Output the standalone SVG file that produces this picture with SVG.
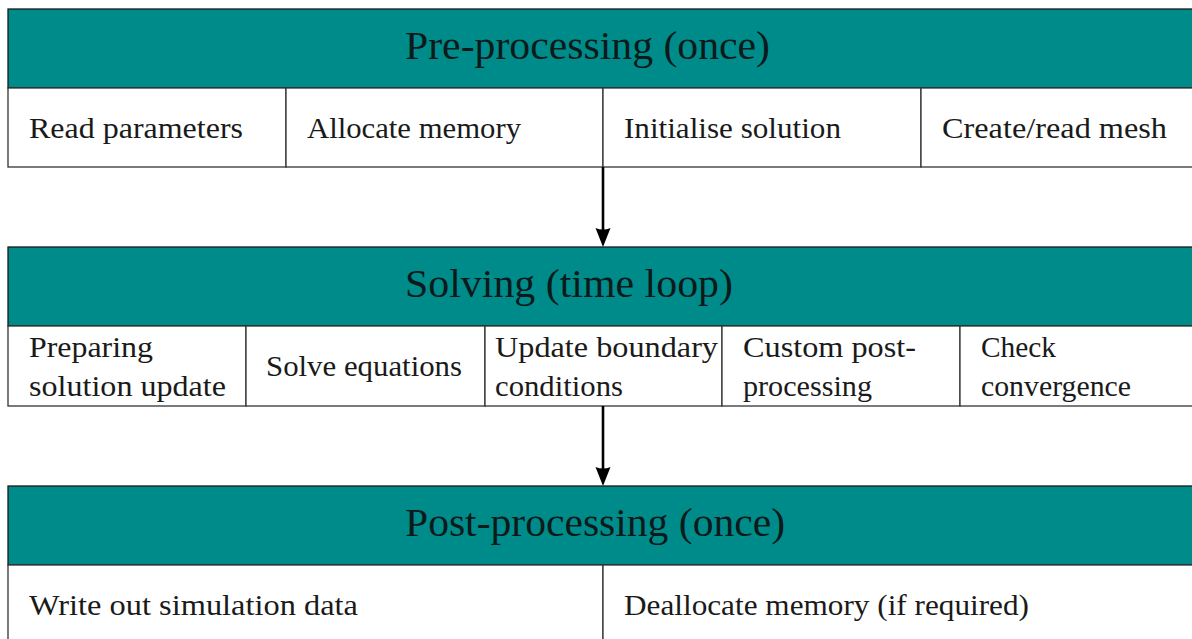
<svg xmlns="http://www.w3.org/2000/svg" width="1192" height="639" viewBox="0 0 1192 639">
<style>
.hdr{fill:#008B8B;stroke:#1a1a1a;stroke-width:1.3}
.cell{fill:#ffffff;stroke:#333333;stroke-width:1.3}
.conn{stroke:#000;stroke-width:2.6;fill:none}
.head{fill:#000}
</style>
<rect width="1192" height="639" fill="#ffffff"/>
<g id="pre-header"><rect class="hdr" x="8" y="9" width="1190" height="79"/><text x="405" y="59" font-family="Liberation Serif" font-size="40" fill="#0d1a1a" textLength="365" lengthAdjust="spacingAndGlyphs">Pre-processing (once)</text></g>
<g id="read-parameters"><rect class="cell" x="8" y="88" width="278" height="79"/><text x="29" y="138" font-family="Liberation Serif" font-size="29" fill="#1a1a1a" textLength="214" lengthAdjust="spacingAndGlyphs">Read parameters</text></g>
<g id="allocate-memory"><rect class="cell" x="286" y="88" width="317" height="79"/><text x="307" y="138" font-family="Liberation Serif" font-size="29" fill="#1a1a1a" textLength="214" lengthAdjust="spacingAndGlyphs">Allocate memory</text></g>
<g id="initialise-solution"><rect class="cell" x="603" y="88" width="318" height="79"/><text x="624" y="138" font-family="Liberation Serif" font-size="29" fill="#1a1a1a" textLength="217" lengthAdjust="spacingAndGlyphs">Initialise solution</text></g>
<g id="create-read-mesh"><rect class="cell" x="921" y="88" width="277" height="79"/><text x="942" y="138" font-family="Liberation Serif" font-size="29" fill="#1a1a1a" textLength="225" lengthAdjust="spacingAndGlyphs">Create/read mesh</text></g>
<g id="solve-header"><rect class="hdr" x="8" y="247" width="1190" height="79"/><text x="405" y="297" font-family="Liberation Serif" font-size="40" fill="#0d1a1a" textLength="328" lengthAdjust="spacingAndGlyphs">Solving (time loop)</text></g>
<g id="preparing"><rect class="cell" x="8" y="326" width="238" height="80"/><text x="29" y="357" font-family="Liberation Serif" font-size="29" fill="#1a1a1a" textLength="124" lengthAdjust="spacingAndGlyphs">Preparing</text><text x="29" y="396" font-family="Liberation Serif" font-size="29" fill="#1a1a1a" textLength="197" lengthAdjust="spacingAndGlyphs">solution update</text></g>
<g id="solve-equations"><rect class="cell" x="246" y="326" width="239" height="80"/><text x="266" y="376" font-family="Liberation Serif" font-size="29" fill="#1a1a1a" textLength="196" lengthAdjust="spacingAndGlyphs">Solve equations</text></g>
<g id="update-bc"><rect class="cell" x="485" y="326" width="237" height="80"/><text x="495" y="357" font-family="Liberation Serif" font-size="29" fill="#1a1a1a" textLength="223" lengthAdjust="spacingAndGlyphs">Update boundary</text><text x="495" y="396" font-family="Liberation Serif" font-size="29" fill="#1a1a1a" textLength="128" lengthAdjust="spacingAndGlyphs">conditions</text></g>
<g id="custom-post"><rect class="cell" x="722" y="326" width="238" height="80"/><text x="743" y="357" font-family="Liberation Serif" font-size="29" fill="#1a1a1a" textLength="173" lengthAdjust="spacingAndGlyphs">Custom post-</text><text x="743" y="396" font-family="Liberation Serif" font-size="29" fill="#1a1a1a" textLength="129" lengthAdjust="spacingAndGlyphs">processing</text></g>
<g id="check-convergence"><rect class="cell" x="960" y="326" width="238" height="80"/><text x="981" y="357" font-family="Liberation Serif" font-size="29" fill="#1a1a1a" textLength="75" lengthAdjust="spacingAndGlyphs">Check</text><text x="981" y="396" font-family="Liberation Serif" font-size="29" fill="#1a1a1a" textLength="150" lengthAdjust="spacingAndGlyphs">convergence</text></g>
<g id="post-header"><rect class="hdr" x="8" y="486" width="1190" height="79"/><text x="405" y="536" font-family="Liberation Serif" font-size="40" fill="#0d1a1a" textLength="380" lengthAdjust="spacingAndGlyphs">Post-processing (once)</text></g>
<g id="write-out"><rect class="cell" x="8" y="565" width="595" height="80"/><text x="29" y="615" font-family="Liberation Serif" font-size="29" fill="#1a1a1a" textLength="329" lengthAdjust="spacingAndGlyphs">Write out simulation data</text></g>
<g id="deallocate"><rect class="cell" x="603" y="565" width="595" height="80"/><text x="624" y="615" font-family="Liberation Serif" font-size="29" fill="#1a1a1a" textLength="405" lengthAdjust="spacingAndGlyphs">Deallocate memory (if required)</text></g>
<g id="connectors">
<line class="conn" x1="603" y1="167" x2="603" y2="232"/>
<path class="head" d="M603,247 L595.5,228 Q603,231 610.5,228 Z"/>
<line class="conn" x1="603" y1="406" x2="603" y2="471"/>
<path class="head" d="M603,486 L595.5,467 Q603,470 610.5,467 Z"/>
</g>
</svg>
